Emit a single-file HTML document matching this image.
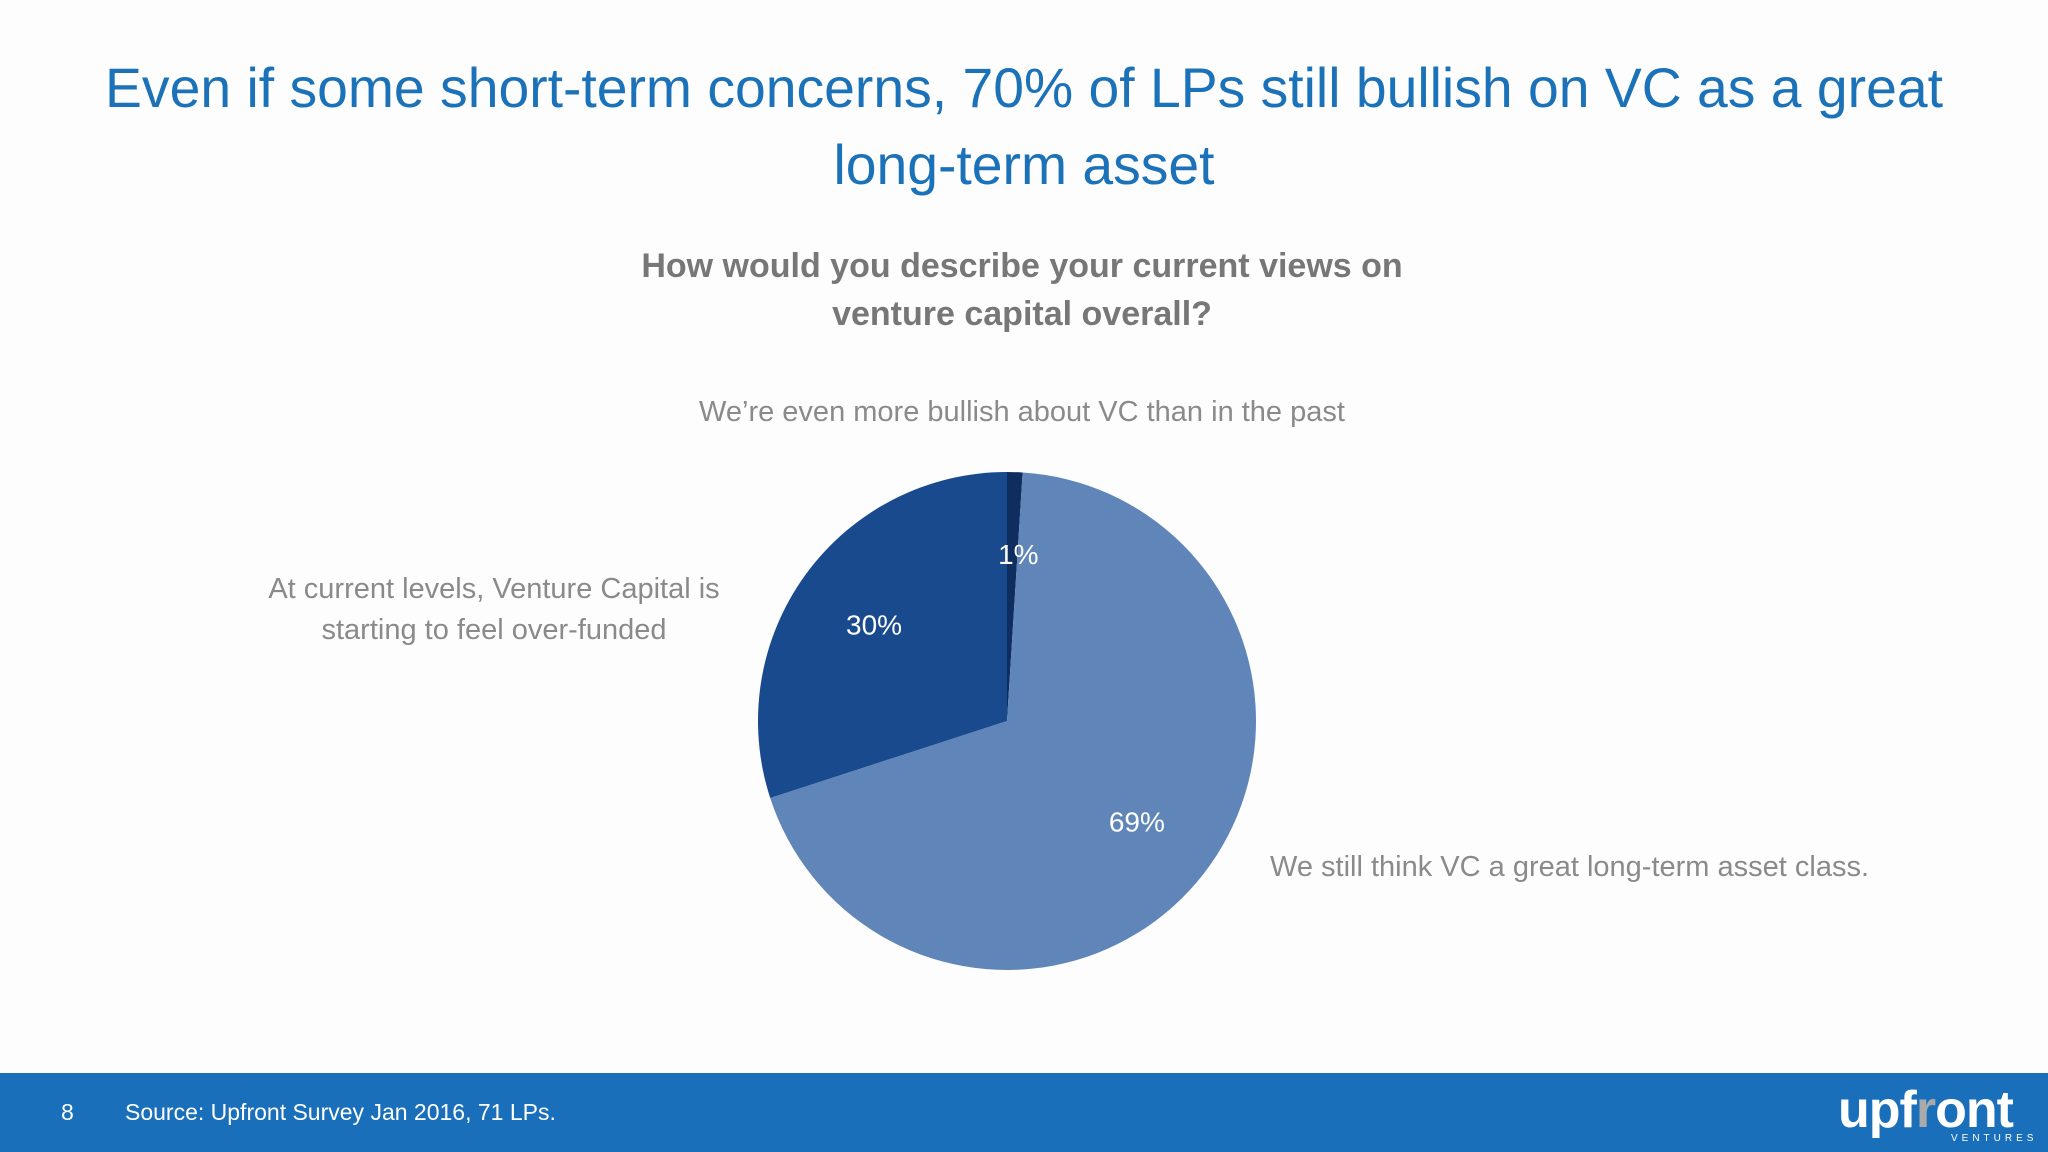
<!DOCTYPE html>
<html><head><meta charset="utf-8"><style>
body{margin:0;width:2048px;height:1152px;background:#fdfdfd;font-family:"Liberation Sans",sans-serif;position:relative;overflow:hidden}
.t{position:absolute;white-space:nowrap}
</style></head><body>
<div class="t" style="left:0;width:2048px;top:50px;text-align:center;color:#1b72b8;font-size:55.3px;line-height:77px">Even if some short-term concerns, 70% of LPs still bullish on VC as a great<br>long-term asset</div>
<div class="t" style="left:0;width:2044px;top:242px;text-align:center;color:#777;font-weight:bold;font-size:34px;line-height:48px">How would you describe your current views on<br>venture capital overall?</div>
<div class="t" style="left:0;width:2044px;top:396px;text-align:center;color:#8a8a8a;font-size:29px">We’re even more bullish about VC than in the past</div>
<div class="t" style="left:194px;width:600px;top:569px;text-align:center;color:#8a8a8a;font-size:29px;line-height:41px">At current levels, Venture Capital is<br>starting to feel over-funded</div>
<div class="t" style="left:1270px;top:851px;color:#8a8a8a;font-size:29px">We still think VC a great long-term asset class.</div>
<svg id="pie" width="2048" height="1152" style="position:absolute;left:0;top:0"></svg>
<div style="position:absolute;left:0;top:1073px;width:2048px;height:79px;background:#1a6fba"></div>
<div class="t" style="left:61px;top:1099px;color:#fff;font-size:23px">8</div>
<div class="t" style="left:125px;top:1099px;color:#fff;font-size:23px">Source: Upfront Survey Jan 2016, 71 LPs.</div>
<div class="t" style="left:1838px;top:1080px;color:#fff;font-size:52px;font-weight:bold;letter-spacing:-1px">upf<span style="color:#aaa">r</span>ont</div>
<div class="t" style="left:1951px;top:1133px;color:#fff;font-size:10px;letter-spacing:4px">VENTURES</div>
<script>
const categories=["Even more bullish","Great long-term asset","Over-funded"];
const values=[1,69,30];
const labels=["1%","69%","30%"];
const colors=["#0f2d5e","#6086b9","#1a4a8e"];
const svg=document.getElementById('pie');
const cx=1007,cy=721,r=249,ns="http://www.w3.org/2000/svg";
const total=values.reduce((a,b)=>a+b,0);
let a0=0;
const mids=[];
values.forEach((v,i)=>{
 const a1=a0+v/total*2*Math.PI;
 const p=(a)=>[cx+r*Math.sin(a),cy-r*Math.cos(a)];
 const [x0,y0]=p(a0),[x1,y1]=p(a1);
 const path=document.createElementNS(ns,'path');
 path.setAttribute('d',`M${cx},${cy}L${x0},${y0}A${r},${r} 0 ${a1-a0>Math.PI?1:0} 1 ${x1},${y1}Z`);
 path.setAttribute('fill',colors[i]);
 
 
 svg.appendChild(path);
 mids.push((a0+a1)/2);
 a0=a1;
});
values.forEach((v,i)=>{
 const am=mids[i];
 let lx,ly;
 if(v<5){lx=cx+0.68*r*Math.sin(am)+6;ly=cy-0.68*r*Math.cos(am)+2;}
 else{lx=cx+0.66*r*Math.sin(am);ly=cy-0.66*r*Math.cos(am);}
 const t=document.createElementNS(ns,'text');
 t.setAttribute('x',lx);t.setAttribute('y',ly+10);
 t.setAttribute('text-anchor','middle');t.setAttribute('fill','#fff');
 t.setAttribute('font-size','28');t.setAttribute('font-family','Liberation Sans, sans-serif');
 t.textContent=labels[i];
 
 
 svg.appendChild(t);
});
</script>
</body></html>
